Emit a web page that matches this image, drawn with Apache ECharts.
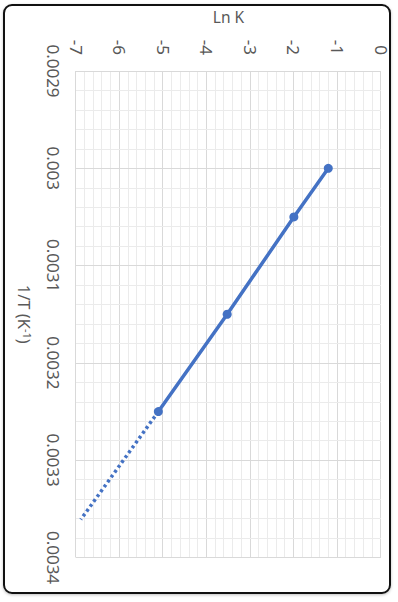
<!DOCTYPE html>
<html>
<head>
<meta charset="utf-8">
<script src="https://cdn.jsdelivr.net/npm/echarts@6/dist/echarts.min.js"></script>
<style>
  html, body { margin: 0; padding: 0; width: 398px; height: 602px; background: #ffffff; overflow: hidden; }
  #frame { position: absolute; left: 3px; top: 4px; width: 384px; height: 586px; border: 2px solid #111; border-radius: 9px; box-shadow: 0 1px 3px rgba(0,0,0,0.25); }
  #chart { position: absolute; left: 0; top: 0; width: 602px; height: 398px; transform-origin: 0 0; transform: translate(398px, 0) rotate(90deg); }
</style>
</head>
<body>
<div id="frame"></div>
<div id="chart"></div>
<script>
// Data
const invT = [0.0030, 0.00305, 0.00315, 0.00325];      // 1/T (K^-1)
const lnK  = [-1.21, -2.00, -3.53, -5.11];             // Ln K
const extInvT = [0.00325, 0.003361];                    // dotted extrapolation
const extLnK  = [-5.11, -6.89];
const xTicks = { min: 0.0029, max: 0.0034, step: 0.0001 };
const yTicks = { min: -7, max: 0, step: 1 };
const xNameMain = '1/T (K';
const xNameSup = '-1';
const xNameEnd = ')';
const yName = 'Ln K';

const solid = invT.map((v, i) => [v, lnK[i]]);
const dotted = extInvT.map((v, i) => [v, extLnK[i]]);

const chart = echarts.init(document.getElementById('chart'), null, { renderer: 'svg' });
const font = 'Noto Sans';
const labelColor = '#595959';
chart.setOption({
  backgroundColor: 'transparent',
  animation: false,
  grid: { left: 71, right: 44.5, top: 17, bottom: 76, containLabel: false, outerBoundsMode: 'none' },
  xAxis: {
    type: 'value', min: xTicks.min, max: xTicks.max, interval: xTicks.step,
    name: '{m|' + xNameMain + '}{s|' + xNameSup + '}{m|' + xNameEnd + '}',
    nameLocation: 'middle', nameGap: 43,
    nameTextStyle: { fontFamily: font, color: labelColor,
      rich: {
        m: { fontFamily: font, fontSize: 16.5, color: labelColor },
        s: { fontFamily: font, fontSize: 11, color: labelColor, verticalAlign: 'top' }
      } },
    axisLine: { show: false }, axisTick: { show: false },
    axisLabel: { fontFamily: font, fontSize: 17, color: labelColor, margin: 14,
      formatter: v => String(parseFloat(v.toFixed(5))) },
    splitLine: { show: true, lineStyle: { color: '#d9d9d9', width: 1 } },
    minorTick: { show: false, splitNumber: 5 },
    minorSplitLine: { show: true, lineStyle: { color: '#ebebeb', width: 1 } }
  },
  yAxis: {
    type: 'value', min: yTicks.min, max: yTicks.max, interval: yTicks.step,
    name: yName, nameLocation: 'middle', nameGap: 46, nameRotate: 90,
    nameTextStyle: { fontFamily: font, fontSize: 15.5, color: labelColor },
    axisLine: { show: false }, axisTick: { show: false },
    axisLabel: { fontFamily: font, fontSize: 17, color: labelColor, margin: 16 },
    splitLine: { show: true, lineStyle: { color: '#d9d9d9', width: 1 } },
    minorTick: { show: false, splitNumber: 5 },
    minorSplitLine: { show: true, lineStyle: { color: '#ebebeb', width: 1 } }
  },
  series: [
    {
      type: 'line', data: dotted, showSymbol: false, silent: true,
      lineStyle: { color: '#4472C4', width: 3.5, type: [3, 3], cap: 'butt' }, z: 2
    },
    {
      type: 'line', data: solid, symbol: 'circle', symbolSize: 9,
      itemStyle: { color: '#4472C4' },
      lineStyle: { color: '#4472C4', width: 3.5 }, z: 3
    }
  ]
});
</script>
</body>
</html>
